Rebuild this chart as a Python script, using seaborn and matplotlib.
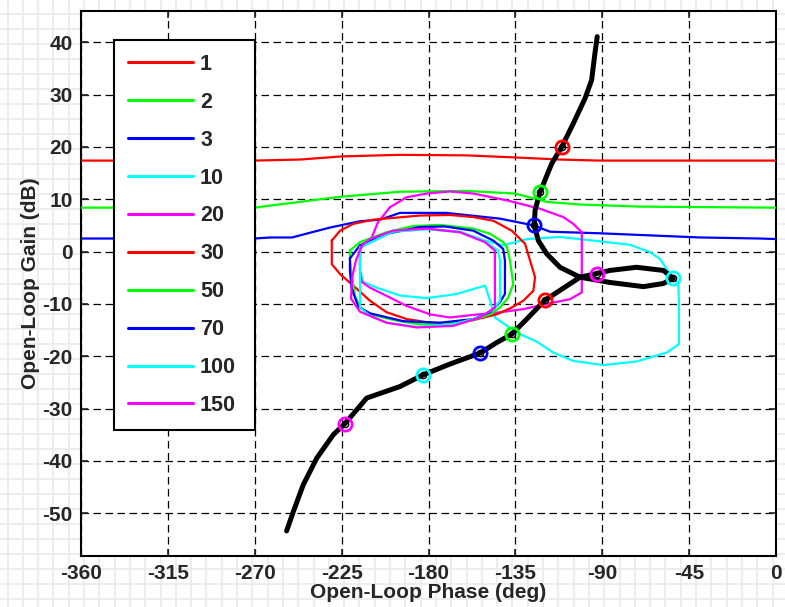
import numpy as np
import pandas as pd
import matplotlib
matplotlib.use('Agg')
import matplotlib.pyplot as plt
import seaborn as sns

sns.set_style('white')
plt.rcParams['font.family'] = ['Liberation Sans', 'DejaVu Sans']
plt.rcParams['font.weight'] = 'bold'

# open-loop phase (deg) / gain (dB) of the black frequency response
ol_phase = [-92.6, -93.8, -95.5, -98.9, -105.0, -111.0, -116.2, -122.3, -124.8, -125.2,
            -123.1, -118.8, -111.9, -101.5, -86.0, -68.7, -58.4, -53.2, -58.4, -72.2,
            -86.0, -92.9, -101.5, -111.0, -119.7, -129.1, -136.9, -144.7, -153.3, -168.9,
            -183.0, -194.8, -212.0, -223.3, -229.3, -237.9, -244.9, -250.0, -253.5]
ol_gain = [41.1, 37.9, 32.8, 29.3, 24.5, 20.0, 16.8, 11.3, 7.9, 5.0,
           2.1, -0.4, -3.0, -4.9, -5.9, -6.7, -6.1, -5.1, -3.6, -3.0,
           -3.6, -4.2, -4.9, -7.2, -9.3, -12.9, -15.8, -17.4, -19.4, -21.5,
           -23.6, -25.8, -28.0, -32.9, -35.0, -39.5, -44.6, -49.7, -53.4]

freqs = ['1', '2', '3', '10', '20', '30', '50', '70', '100', '150']
colors = ['#ff0000', '#00ff00', '#0000ff', '#00ffff', '#ff00ff',
          '#ff0000', '#00ff00', '#0000ff', '#00ffff', '#ff00ff']
mark_phase = [-111.0, -122.3, -125.2, -53.2, -92.9, -119.7, -136.9, -153.3, -183.0, -223.3]
mark_gain = [20.0, 11.3, 5.0, -5.1, -4.2, -9.3, -15.8, -19.4, -23.6, -32.9]

# template boundaries for each frequency
ph_1 = [-360, -270, -246.6, -224.8, -194.8, -160.6, -135.2, -111.9, -91.2, 0]
db_1 = [17.4, 17.4, 17.6, 18.2, 18.5, 18.4, 18.0, 17.6, 17.4, 17.4]
ph_2 = [-360, -270, -262.1, -246.6, -236.2, -224.8, -194.8, -160.6, -135.2, -118.6, -101.5, -70.5, 0]
db_2 = [8.4, 8.4, 8.8, 9.5, 10.0, 10.5, 11.45, 11.6, 11.1, 9.5, 9.0, 8.6, 8.4]
ph_3 = [-360, -270, -262.1, -250.7, -241.4, -231.0, -223.3, -215.5, -205.1, -194.8,
        -170.9, -143.0, -125.4, -117.1, -91.2, -39.4, -8.3, 0]
db_3 = [2.5, 2.5, 2.7, 2.7, 3.6, 4.6, 5.2, 5.8, 6.1, 7.4,
        7.4, 6.3, 5.0, 3.8, 3.5, 2.7, 2.5, 2.4]
ph_10 = [-215.5, -198.4, -180.8, -163.7, -150.7, -141.4, -129.1, -111.9, -94.8, -75.6,
         -65.3, -60.1, -54.9, -50.6, -50.3, -50.3, -56.6, -72.2, -89.5, -105.0,
         -115.4, -124.0, -134.3, -145.6, -148.1, -150.7, -165.4, -180.9, -194.8, -206.8,
         -213.8, -215.5, -215.5]
db_10 = [0.8, 3.8, 4.3, 3.8, 2.1, 1.2, 2.4, 2.8, 2.1, 1.3,
         -0.1, -1.4, -4.3, -6.2, -9.4, -17.7, -19.3, -21.0, -21.7, -20.9,
         -19.3, -17.2, -15.5, -12.6, -9.4, -6.5, -8.1, -8.9, -8.4, -6.9,
         -5.8, -3.6, 0.8]
ph_20 = [-199.9, -191.3, -180.9, -168.9, -156.8, -139.5, -122.3, -110.2, -105.0, -100.6,
         -100.6, -106.7, -118.8, -130.9, -143.0, -156.8, -168.9, -179.2, -191.3, -199.9,
         -210.3, -214.6, -215.5, -215.5, -209.4, -206.2, -199.9]
db_20 = [8.5, 10.4, 11.1, 11.5, 11.1, 9.8, 8.2, 6.6, 5.3, 3.7,
         -7.8, -9.1, -10.0, -11.0, -11.6, -12.1, -12.6, -12.0, -10.4, -8.8,
         -6.9, -5.8, -3.6, 0.6, 2.7, 5.6, 8.5]
ph_30 = [-230.1, -225.8, -219.0, -208.6, -196.5, -184.4, -168.9, -156.8, -146.4, -136.9,
         -130.0, -127.4, -124.8, -125.7, -130.9, -136.9, -144.7, -156.8, -168.9, -179.2,
         -191.3, -201.7, -210.3, -219.0, -225.8, -230.1, -230.1]
db_30 = [2.1, 4.0, 5.3, 6.1, 6.5, 6.9, 7.0, 6.6, 5.9, 4.0,
         1.5, -1.7, -4.9, -7.5, -9.4, -10.7, -12.0, -13.1, -13.7, -13.6,
         -12.9, -11.6, -9.4, -6.5, -4.3, -2.4, 2.1]
ph_50 = [-220.7, -215.5, -201.7, -187.9, -174.0, -156.8, -148.1, -141.3, -139.3, -137.8,
         -136.1, -138.7, -143.0, -148.1, -156.8, -174.0, -184.4, -196.5, -210.3, -215.5,
         -218.1, -220.1, -220.7, -220.7]
db_50 = [0.2, 1.8, 3.7, 4.9, 5.1, 4.4, 3.4, 1.8, 0.8, -1.7,
         -6.2, -8.8, -10.7, -12.0, -13.1, -13.9, -13.9, -13.2, -12.0, -10.7,
         -8.4, -3.6, -1.3, 0.2]
ph_70 = [-220.7, -215.5, -201.7, -184.4, -171.5, -156.8, -146.4, -141.3, -140.4, -140.4,
         -143.0, -148.1, -156.8, -174.0, -193.1, -210.3, -216.4, -219.9, -220.7, -220.7]
db_70 = [-1.3, 1.2, 3.4, 4.7, 4.8, 4.0, 2.1, 0.5, -1.7, -8.1,
         -9.7, -11.6, -12.9, -13.6, -13.3, -11.8, -10.5, -6.9, -3.6, -1.3]
ph_100 = [-215.5, -198.4, -180.8, -163.7, -150.7, -144.0, -143.0, -143.0, -146.6, -153.3,
          -167.2, -186.0, -201.5, -210.3, -215.5, -215.5, -215.5]
db_100 = [0.8, 3.8, 4.3, 3.7, 1.9, 0.2, -1.7, -9.4, -11.1, -12.5,
          -13.9, -14.4, -13.6, -12.3, -10.7, -5.6, 0.8]
ph_150 = [-214.4, -210.3, -198.4, -180.9, -163.7, -150.7, -145.6, -145.6, -153.3, -167.2,
          -186.1, -201.7, -215.5, -220.1, -219.6, -217.6, -214.4]
db_150 = [1.2, 2.4, 4.0, 4.4, 3.7, 1.8, 0.2, -10.7, -12.6, -14.2,
          -14.5, -13.6, -11.5, -9.0, -5.0, -1.7, 1.2]

templates = [(ph_1, db_1), (ph_2, db_2), (ph_3, db_3), (ph_10, db_10), (ph_20, db_20),
             (ph_30, db_30), (ph_50, db_50), (ph_70, db_70), (ph_100, db_100), (ph_150, db_150)]

fig = plt.figure(figsize=(7.85, 6.07), dpi=100)

# light paper-like grid behind the axes
bg = fig.add_axes([0, 0, 1, 1], zorder=-5)
bg.set_xlim(0, 785)
bg.set_ylim(607, 0)
bg.vlines(np.arange(7.5, 785, 15.3), 0, 607, color='#ececec', lw=1.3)
bg.hlines(np.arange(13.5, 607, 15.0), 0, 785, color='#ececec', lw=1.3)
bg.axis('off')

ax = fig.add_axes([81 / 785, 1 - 556 / 607, 695 / 785, 545 / 607])
ax.set_facecolor('white')

for (ph, db), c, lab in zip(templates, colors, freqs):
    df = pd.DataFrame({'phase': ph, 'gain': db})
    sns.lineplot(data=df, x='phase', y='gain', sort=False, estimator=None,
                 color=c, lw=1.6, ax=ax, label=lab, zorder=3)

ol = pd.DataFrame({'phase': ol_phase, 'gain': ol_gain})
sns.lineplot(data=ol, x='phase', y='gain', sort=False, estimator=None,
             color='black', lw=3.6, ax=ax, zorder=4, solid_capstyle='round')

for p, g, c in zip(mark_phase, mark_gain, colors):
    ax.plot(p, g, 'o', ms=9.5, mfc='none', mec=c, mew=2.0, zorder=5)
    ax.plot(p, g, 'o', ms=4.5, mfc='none', mec='black', mew=1.0, zorder=6)

ax.set_xlim(-360, 0)
ax.set_ylim(-58.2, 46.0)
xt = np.arange(-360, 1, 45)
yt = np.arange(-50, 41, 10)
ax.set_xticks(xt)
ax.set_xticklabels([str(v) for v in xt], fontsize=15, fontweight='bold')
ax.set_yticks(yt)
ax.set_yticklabels([str(v) for v in yt], fontsize=15, fontweight='bold')
ax.grid(True, color='black', lw=0.9, linestyle=(0, (6, 3.6)))
ax.set_axisbelow(True)
ax.tick_params(direction='in', length=5, width=1.2, pad=6,
               top=True, right=True, bottom=True, left=True)
for s in ax.spines.values():
    s.set_color('black')
    s.set_linewidth(1.5)

ax.set_xlabel('Open-Loop Phase (deg)', fontsize=15, fontweight='bold', labelpad=0)
ax.set_ylabel('Open-Loop Gain (dB)', fontsize=15, fontweight='bold', labelpad=2)

leg = ax.legend(loc='upper left', bbox_to_anchor=(0.0475, 0.237, 0.2025, 0.71),
                mode='expand', fontsize=15.5, handlelength=3.0, handletextpad=0.35,
                labelspacing=0.785, borderpad=0.65, fancybox=False, framealpha=1,
                edgecolor='black', borderaxespad=0)
leg.get_frame().set_linewidth(1.5)
for t in leg.get_texts():
    t.set_fontweight('bold')
for h in leg.get_lines():
    h.set_linewidth(2.2)

fig.savefig('out.png', dpi=100)
